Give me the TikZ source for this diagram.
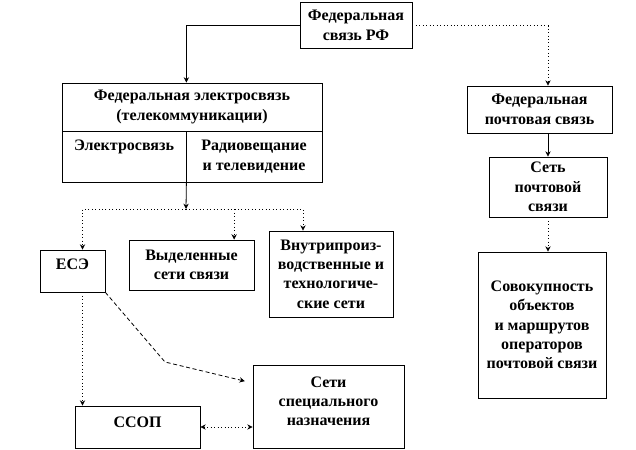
\documentclass[tikz,border=0pt]{standalone}
\usepackage{fontspec}
\setmainfont{Liberation Serif}
\usetikzlibrary{arrows.meta, positioning, calc}
\tikzset{
  box/.style={
    rectangle, draw, line width=0.6pt, align=center, inner sep=2pt,
    font=\bfseries\fontsize{12}{14.5}\selectfont,
  },
  arrow/.style={-{Stealth[length=4pt, width=4pt]}, line width=0.6pt},
  dotarrow/.style={arrow, dotted},
}

\begin{document}
\begin{tikzpicture}[x=0.75pt, y=-0.75pt]
  \useasboundingbox (0,0) rectangle (636,450);

  \node[box, minimum width=84pt, minimum height=34pt] (top) at (356,25.5) {Федеральная\\связь РФ};

  \node[box, minimum width=195pt, minimum height=36pt] (fedtop) at (192,107) {Федеральная электросвязь\\(телекоммуникации)};
  \node[box, minimum width=93pt, minimum height=38.25pt, text height=8pt, text depth=17pt] (elsv) at (124,156.5) {Электросвязь};
  \node[box, minimum width=102pt, minimum height=38.25pt] (radio) at (254,156.5) {Радиовещание\\и телевидение};

  \node[box, minimum width=108.75pt, minimum height=35.25pt] (pocht) at (539.5,109.5) {Федеральная\\почтовая связь};
  \node[box, minimum width=88.5pt, minimum height=45pt] (set) at (548,187) {Сеть\\почтовой\\связи};
  \node[box, minimum width=96pt, minimum height=109.5pt] (sov) at (542,325) {Совокупность\\объектов\\и маршрутов\\операторов\\почтовой связи};

  \node[box, minimum width=48.75pt, minimum height=31.5pt, text height=8pt, text depth=10pt] (ese) at (72.5,271) {ЕСЭ};
  \node[box, minimum width=93.75pt, minimum height=37.5pt] (vyd) at (191.5,265) {Выделенные\\сети связи};
  \node[box, minimum width=93pt, minimum height=64.5pt] (vnut) at (331,274) {Внутрипроиз-\\водственные и\\технологиче-\\ские сети};
  \node[box, minimum width=93.75pt, minimum height=31.5pt, text height=8pt, text depth=8pt] (ssop) at (137.5,427) {ССОП};
  \node[box, minimum width=113.25pt, minimum height=62.25pt, text depth=8pt] (spec) at (328.5,406.5) {Сети\\специального\\назначения};

  \coordinate (br) at (186,209);
  \coordinate (bend) at (165,362);

  \draw[arrow] (top.west) -| (fedtop.north -| elsv.east);
  \draw[dotarrow] (top.east) -| (set.north |- pocht.north);
  \draw[arrow] (pocht.south -| set.north) -- (set.north);
  \draw[dotarrow] (set.south) -- (set.south |- sov.north);

  \draw[arrow] (elsv.south east) -- (br);
  \draw[dotarrow] (br) -| ([xshift=7.5pt]ese.north);
  \draw[dotarrow] (br) -| ([xshift=32pt]vyd.north);
  \draw[dotarrow] (br) -| ([xshift=-21pt]vnut.north);

  \draw[dotarrow] ([xshift=7.5pt]ese.south) -- ([xshift=7.5pt]ese.south |- ssop.north);
  \draw[arrow, densely dashed, shorten >=6pt] (ese.south east) -- (bend) -- (spec.west |- 0,383);
  \draw[{Stealth[length=4pt, width=4pt]}-{Stealth[length=4pt, width=4pt]}, dotted, line width=0.6pt] (ssop.east) -- (ssop.east -| spec.west);
\end{tikzpicture}
\end{document}
